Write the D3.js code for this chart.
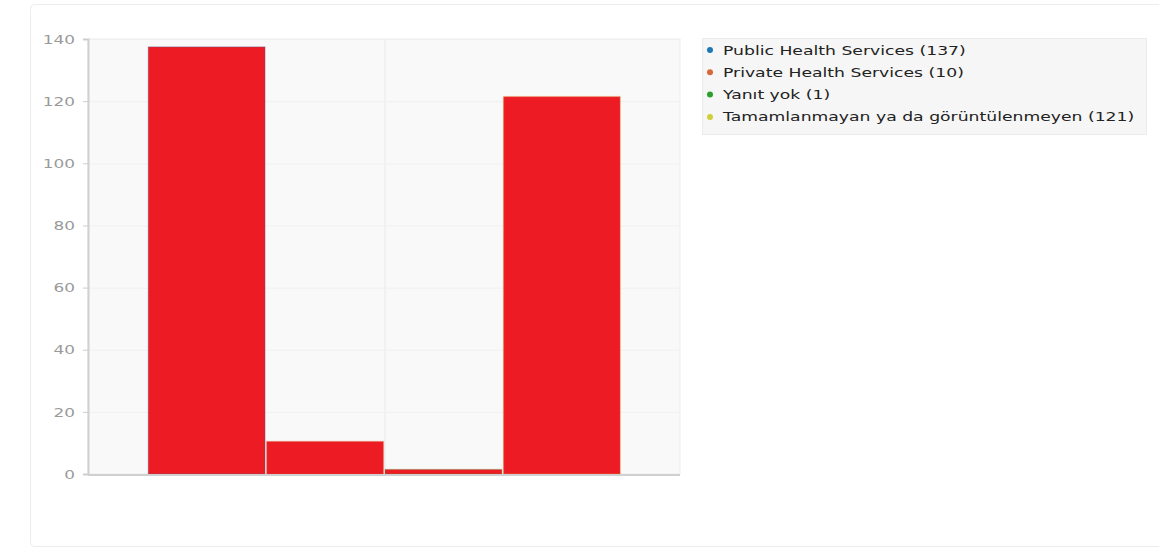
<!DOCTYPE html>
<html><head><meta charset="utf-8">
<script src="https://cdn.jsdelivr.net/npm/d3@7"></script>
<style>
html,body{margin:0;padding:0;background:#fff;}
svg{display:block;font-family:"DejaVu Sans",sans-serif;}
</style></head>
<body>
<svg id="chart" width="1159" height="548"></svg>
<script>
const categories = ["Public Health Services","Private Health Services","Yanıt yok","Tamamlanmayan ya da görüntülenmeyen"];
const values = [137, 10, 1, 121];
const seriesColors = ["#1f77b4","#d9673c","#2ca02c","#cfcf3a"];
const yTicks = [0,20,40,60,80,100,120,140];
const barColor = "#ed1c24";
const stretch = 1.3;
const legendStretch = 1.325;

const svg = d3.select("#chart");
// outer panel
svg.append("rect").attr("x",30.5).attr("y",4.5).attr("width",1140).attr("height",542)
  .attr("rx",4).attr("fill","#fff").attr("stroke","#ececec");

const plot = {left:88, right:680, top:39, bottom:474};
const x = d3.scaleBand().domain(categories).range([plot.left, plot.right]).paddingInner(0).paddingOuter(0.5);
const y = d3.scaleLinear().domain([0,140]).range([plot.bottom, plot.top]);

svg.append("rect").attr("x",plot.left).attr("y",plot.top).attr("width",plot.right-plot.left)
  .attr("height",plot.bottom-plot.top).attr("fill","#f9f9f9").attr("stroke","#ececec");

// grid
svg.append("g").selectAll("line").data(yTicks.slice(1)).join("line")
  .attr("x1",plot.left).attr("x2",plot.right).attr("y1",d=>y(d)+0.5).attr("y2",d=>y(d)+0.5)
  .attr("stroke","#f0f0f0");
svg.append("line").attr("x1",(plot.left+plot.right)/2+1).attr("x2",(plot.left+plot.right)/2+1)
  .attr("y1",plot.top).attr("y2",plot.bottom).attr("stroke","#f1f1f1").attr("stroke-width",2);

// y axis
const yAxis = d3.axisLeft(y).tickValues(yTicks).tickSize(5).tickPadding(6);
const ga = svg.append("g").attr("transform",`translate(${plot.left},0)`).call(yAxis);
ga.select(".domain").attr("stroke","#d0d0d0").attr("stroke-width",2);
ga.selectAll(".tick line").attr("stroke","#ccc");
ga.selectAll(".tick text").attr("fill","#9a9a9a").attr("font-size",13).attr("font-family","DejaVu Sans")
  .attr("x",-13/stretch).attr("transform",`scale(${stretch},1)`);

// bars
svg.append("g").selectAll("rect").data(values).join("rect")
  .attr("x",(d,i)=>x(categories[i])+1).attr("width",x.bandwidth()-1.5)
  .attr("y",d=>y(d)-1.5).attr("height",d=>y(0)-y(d)+1.5)
  .attr("fill",barColor)
  .attr("stroke",(d,i)=>seriesColors[i]).attr("stroke-opacity",0.2).attr("stroke-width",1.5);

// x baseline
svg.append("line").attr("x1",plot.left).attr("x2",plot.right).attr("y1",y(0)+1).attr("y2",y(0)+1)
  .attr("stroke","#d0d0d0").attr("stroke-width",2);

// legend
const lg = svg.append("g");
lg.append("rect").attr("x",702.5).attr("y",38.5).attr("width",444).attr("height",96)
  .attr("fill","#f6f6f6").attr("stroke","#ebebeb");
const items = lg.selectAll("g.item").data(categories).join("g").attr("class","item")
  .attr("transform",(d,i)=>`translate(710,${50+i*22.3})`);
items.append("circle").attr("cx",0).attr("cy",0).attr("r",3).attr("fill",(d,i)=>seriesColors[i]);
items.append("text").attr("x",13/legendStretch).attr("y",0).attr("dy","0.35em").attr("font-size",13)
  .attr("transform",`scale(${legendStretch},1)`)
  .attr("fill","#222").text((d,i)=>`${d} (${values[i]})`);
</script>
</body></html>
